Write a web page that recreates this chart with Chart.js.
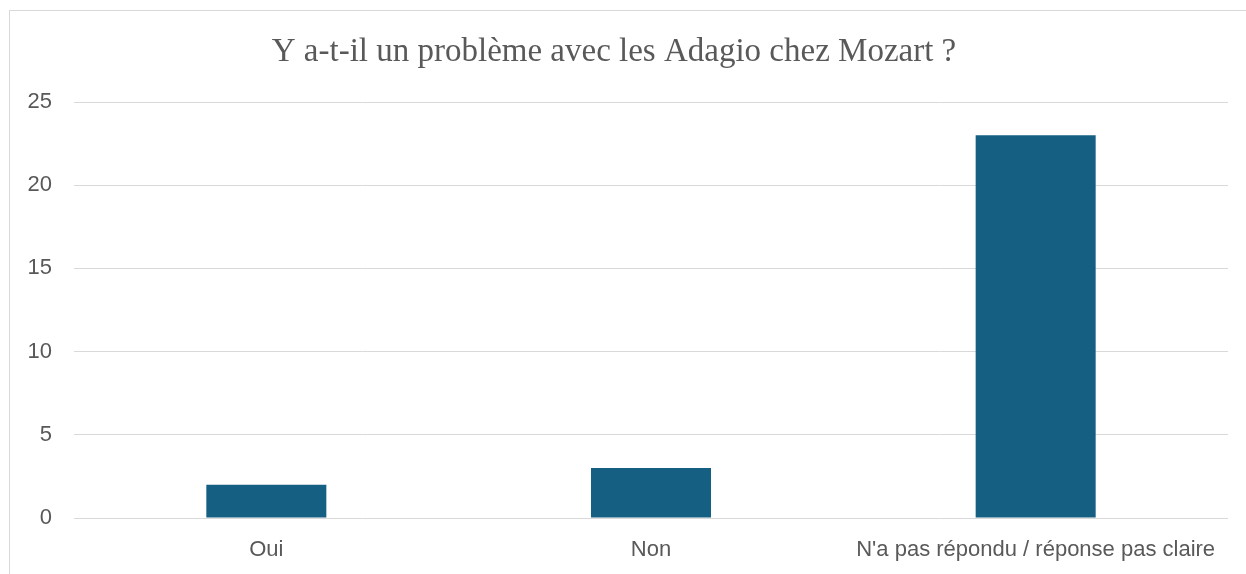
<!DOCTYPE html>
<html><head><meta charset="utf-8">
<script src="https://cdn.jsdelivr.net/npm/chart.js@4"></script>
<style>html,body{margin:0;padding:0;background:#fff;}#wrap{width:1246px;height:574px;position:relative;}</style>
</head><body><div id="wrap"><canvas id="c" width="1246" height="574"></canvas></div>
<script>
const categories = ["Oui", "Non", "N'a pas répondu / réponse pas claire"];
const values = [2, 3, 23];
const titleText = "Y a-t-il un problème avec les Adagio chez Mozart ?";

const framePlugin = {
  id: 'frame',
  beforeDraw(chart) {
    const ctx = chart.ctx;
    ctx.save();
    ctx.fillStyle = '#fff';
    ctx.fillRect(0, 0, chart.width, chart.height);
    ctx.strokeStyle = '#d9d9d9';
    ctx.lineWidth = 1;
    ctx.strokeRect(9.5, 10.5, 1400, 700);
    ctx.restore();
  }
};

new Chart(document.getElementById('c'), {
  type: 'bar',
  data: { labels: categories, datasets: [{ data: values, backgroundColor: '#156082', borderWidth: 0, barPercentage: 0.312, categoryPercentage: 1 }] },
  options: {
    responsive: false, animation: false,
    layout: { padding: { left: 0, right: 18, top: 10, bottom: 0 } },
    plugins: {
      legend: { display: false }, tooltip: { enabled: false },
      title: { display: true, text: titleText, color: '#595959',
        font: { family: 'Liberation Serif', size: 33, weight: 'normal' }, padding: { top: 22.5, bottom: 29.9 } }
    },
    scales: {
      x: { grid: { display: false, drawTicks: false }, border: { display: false },
        ticks: { color: '#595959', font: { family: 'Liberation Sans', size: 22 }, padding: 19, maxRotation: 0 },
        afterFit(s) { s.height = 56; } },
      y: { min: 0, max: 25, grid: { color: '#d9d9d9', drawTicks: false }, border: { display: false },
        ticks: { stepSize: 5, color: '#595959', font: { family: 'Liberation Sans', size: 22 }, padding: 22 },
        afterFit(s) { s.width = 74; } }
    }
  },
  plugins: [framePlugin]
});
</script></body></html>
